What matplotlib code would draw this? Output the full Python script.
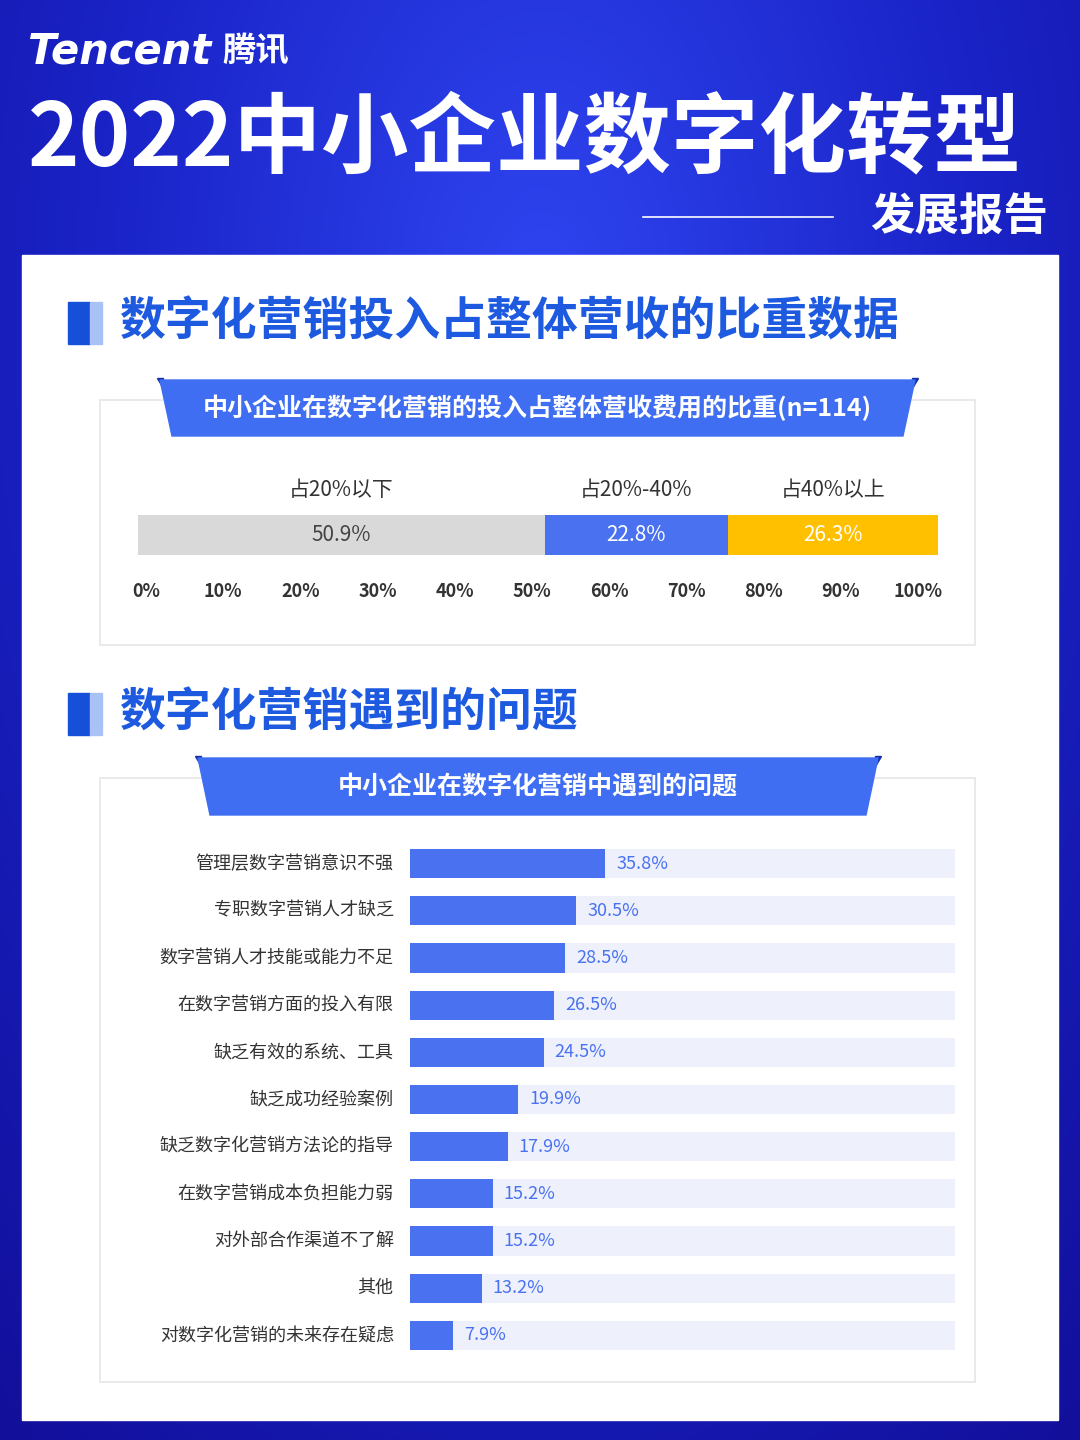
import numpy as np
import matplotlib.pyplot as plt
from matplotlib.patches import Rectangle, Polygon
from matplotlib.colors import LinearSegmentedColormap

plt.rcParams['font.family'] = ['Noto Sans CJK SC', 'DejaVu Sans']

# data
share_labels = ['占20%以下', '占20%-40%', '占40%以上']
share_values = [50.9, 22.8, 26.3]
share_colors = ['#d9d9d9', '#4a72f0', '#ffc000']
share_text_colors = ['#444444', 'white', 'white']
axis_ticks = ['0%', '10%', '20%', '30%', '40%', '50%', '60%', '70%', '80%', '90%', '100%']

problems = ['管理层数字营销意识不强', '专职数字营销人才缺乏', '数字营销人才技能或能力不足',
            '在数字营销方面的投入有限', '缺乏有效的系统、工具', '缺乏成功经验案例',
            '缺乏数字化营销方法论的指导', '在数字营销成本负担能力弱', '对外部合作渠道不了解',
            '其他', '对数字化营销的未来存在疑虑']
problem_values = [35.8, 30.5, 28.5, 26.5, 24.5, 19.9, 17.9, 15.2, 15.2, 13.2, 7.9]

W, H = 1080, 1440
fig = plt.figure(figsize=(W / 100, H / 100), dpi=100)

def px_axes(x0, y0, x1, y1):
    return fig.add_axes([x0 / W, 1 - y1 / H, (x1 - x0) / W, (y1 - y0) / H])

# background
bg = fig.add_axes([0, 0, 1, 1])
bg.set_xlim(0, W); bg.set_ylim(H, 0); bg.axis('off')
yy, xx = np.mgrid[0:H:4, 0:W:4]
grad = np.hypot((xx - 540) / 700, (yy - 300) / 1200)
cmap = LinearSegmentedColormap.from_list('b', ['#2f45f0', '#1a24c8', '#120f9a'])
bg.imshow(grad, extent=[0, W, H, 0], cmap=cmap, aspect='auto', zorder=0)

bg.text(28, 52, 'Tencent', color='white', fontsize=30, fontweight='bold', style='italic',
        va='center', family='DejaVu Sans')
bg.text(222, 52, '腾讯', color='white', fontsize=24, fontweight='bold', va='center')
bg.text(28, 140, '2022中小企业数字化转型', color='white', fontsize=63, fontweight='black',
        va='center', style='italic')
bg.plot([643, 833], [217, 217], color='white', lw=1.2)
bg.text(1048, 218, '发展报告', color='white', fontsize=32, fontweight='black', va='center', ha='right')

# white panel
bg.add_patch(Rectangle((22, 255), 1036, 1165, color='white', zorder=1))

def section(y, title):
    bg.add_patch(Rectangle((68, y - 21), 22, 42, color='#1750d8', zorder=2))
    bg.add_patch(Rectangle((90, y - 21), 12, 42, color='#a9c2f5', zorder=2))
    bg.text(120, y, title, color='#1d5ae0', fontsize=33, fontweight='bold', va='center', zorder=3)

def banner(x0, x1, y0, y1, text):
    bg.add_patch(Polygon([(x0 - 3, y0), (x0 + 3, y0), (x0 + 3, y0 + 10)], color='#1230a8', zorder=3))
    bg.add_patch(Polygon([(x1 + 3, y0), (x1 - 3, y0), (x1 - 3, y0 + 10)], color='#1230a8', zorder=3))
    bg.add_patch(Polygon([(x0, y0 + 2), (x1, y0 + 2), (x1 - 12, y1), (x0 + 12, y1)],
                         color='#3f6ef2', zorder=3))
    bg.text((x0 + x1) / 2, (y0 + y1) / 2 + 1, text, color='white', fontsize=18,
            fontweight='bold', ha='center', va='center', zorder=4)

section(323, '数字化营销投入占整体营收的比重数据')
bg.add_patch(Rectangle((100, 400), 875, 245, fill=False, ec='#e6e6e6', lw=1.2, zorder=2))
banner(160, 915, 378, 436, '中小企业在数字化营销的投入占整体营收费用的比重(n=114)')

section(714, '数字化营销遇到的问题')
bg.add_patch(Rectangle((100, 778), 875, 604, fill=False, ec='#e6e6e6', lw=1.2, zorder=2))
banner(198, 878, 756, 815, '中小企业在数字化营销中遇到的问题')

# stacked bar
ax1 = px_axes(138, 470, 938, 610)
ax1.set_xlim(0, 100); ax1.set_ylim(0, 1); ax1.axis('off')
left = 0
for lab, v, c, tc in zip(share_labels, share_values, share_colors, share_text_colors):
    ax1.barh(0.535, v, left=left, height=0.286, color=c)
    ax1.text(left + v / 2, 0.535, f'{v}%', ha='center', va='center', color=tc, fontsize=15)
    ax1.text(left + v / 2, 0.86, lab, ha='center', va='center', color='#333333', fontsize=15,
             fontweight='medium')
    left += v
for i, t in enumerate(axis_ticks):
    ax1.text(1 + i * 9.65, 0.135, t, ha='center', va='center', color='#333333',
             fontsize=13, fontweight='bold')

# horizontal bars
ax2 = px_axes(410, 840, 955, 1359)
n = len(problems)
ypos = np.arange(n)
ax2.set_xlim(0, 100); ax2.set_ylim(n - 0.5, -0.5); ax2.axis('off')
ax2.barh(ypos, [100] * n, height=0.62, color='#eef1fb')
ax2.barh(ypos, problem_values, height=0.62, color='#4a72f0')
for y, v, lab in zip(ypos, problem_values, problems):
    ax2.text(v + 2, y, f'{v}%', va='center', ha='left', color='#4a72f0', fontsize=13)
    ax2.text(-3, y, lab, va='center', ha='right', color='#333333', fontsize=13,
             fontweight='medium')

fig.savefig('out.png', dpi=100)
